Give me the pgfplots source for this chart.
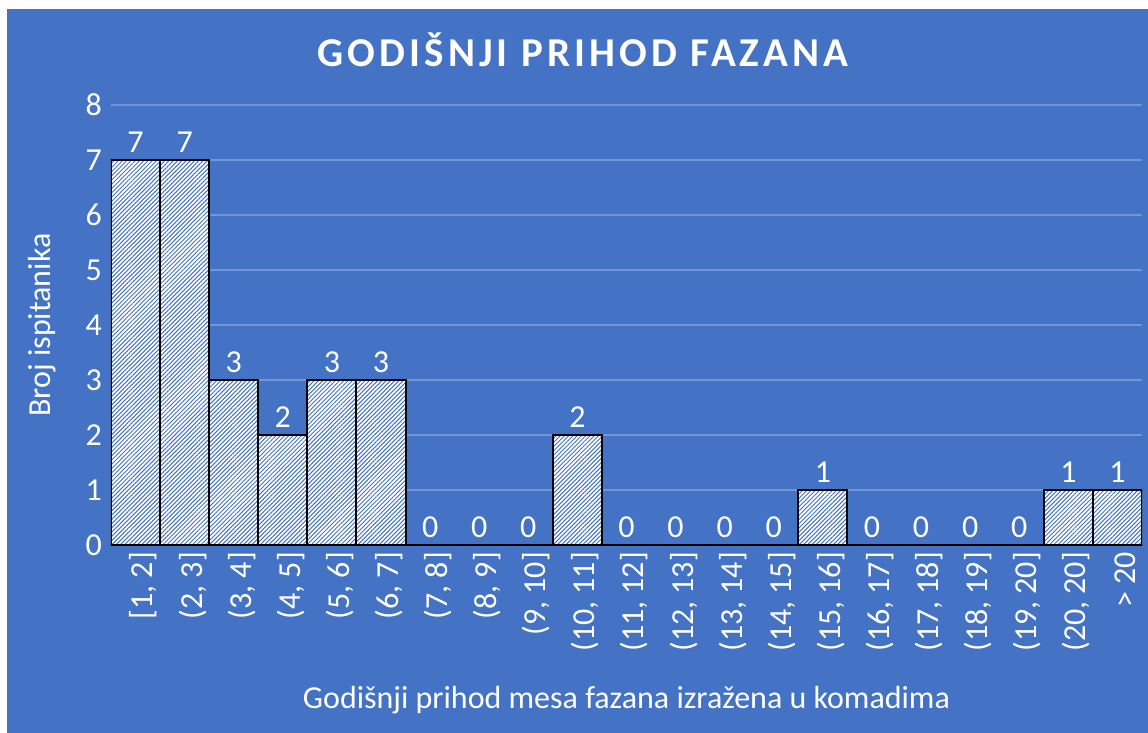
\documentclass[border=0pt]{standalone}
\usepackage{fontspec}
\setmainfont{Carlito}
\usepackage{pgfplots}
\pgfplotsset{compat=1.18}
\usetikzlibrary{patterns.meta}
\definecolor{bg}{HTML}{4472C4}
\definecolor{gridc}{HTML}{7395D3}
\begin{document}
\begin{tikzpicture}[x=1pt,y=1pt]
\fill[white] (0,0) rectangle (574,-366.5);
\fill[bg] (3.5,-4.5) rectangle (574,-366.5);
\node[text=white, font=\fontsize{20.5}{24}\selectfont\bfseries\addfontfeatures{LetterSpace=10}] at (291.5,-25) {GODIŠNJI PRIHOD FAZANA};
\begin{axis}[
  at={(55.5pt,-272.5pt)}, anchor=south west,
  scale only axis, width=515.5pt, height=220pt,
  xmin=-0.5, xmax=20.5, ymin=0, ymax=8,
  ytick={0,...,8}, xtick={0,...,20},
  xticklabels={{[1, 2]},{(2, 3]},{(3, 4]},{(4, 5]},{(5, 6]},{(6, 7]},{(7, 8]},{(8, 9]},{(9, 10]},{(10, 11]},{(11, 12]},{(12, 13]},{(13, 14]},{(14, 15]},{(15, 16]},{(16, 17]},{(17, 18]},{(18, 19]},{(19, 20]},{(20, 20]},{> 20}},
  /pgf/number format/assume math mode=true,
  axis line style={draw=none}, major tick length=0pt,
  ymajorgrids, grid style={gridc, line width=0.75pt},
  tick label style={white, font=\fontsize{16}{19}\selectfont},
  xticklabel style={rotate=90, anchor=east, yshift=-4pt},
  yticklabel style={xshift=-1pt},
  ylabel={Broj ispitanika}, xlabel={Godišnji prihod mesa fazana izražena u komadima},
  label style={white, font=\fontsize{16}{19}\selectfont},
  ylabel style={at={(axis description cs:-0.0669,0.5)}, anchor=center},
  xlabel style={at={(axis description cs:0.5,-0.352)}, anchor=center},
  ybar, bar width=24.55pt,
  nodes near coords,
  every node near coord/.append style={white, font=\fontsize{16}{19}\selectfont},
]
\addplot[draw=black, line width=1pt, fill=white, postaction={pattern={Lines[angle=45, distance=1.5pt, line width=0.5pt]}, pattern color=bg}]
coordinates {(0,7) (1,7) (2,3) (3,2) (4,3) (5,3) (6,0) (7,0) (8,0) (9,2) (10,0) (11,0) (12,0) (13,0) (14,1) (15,0) (16,0) (17,0) (18,0) (19,1) (20,1)};
\end{axis}
\end{tikzpicture}
\end{document}
